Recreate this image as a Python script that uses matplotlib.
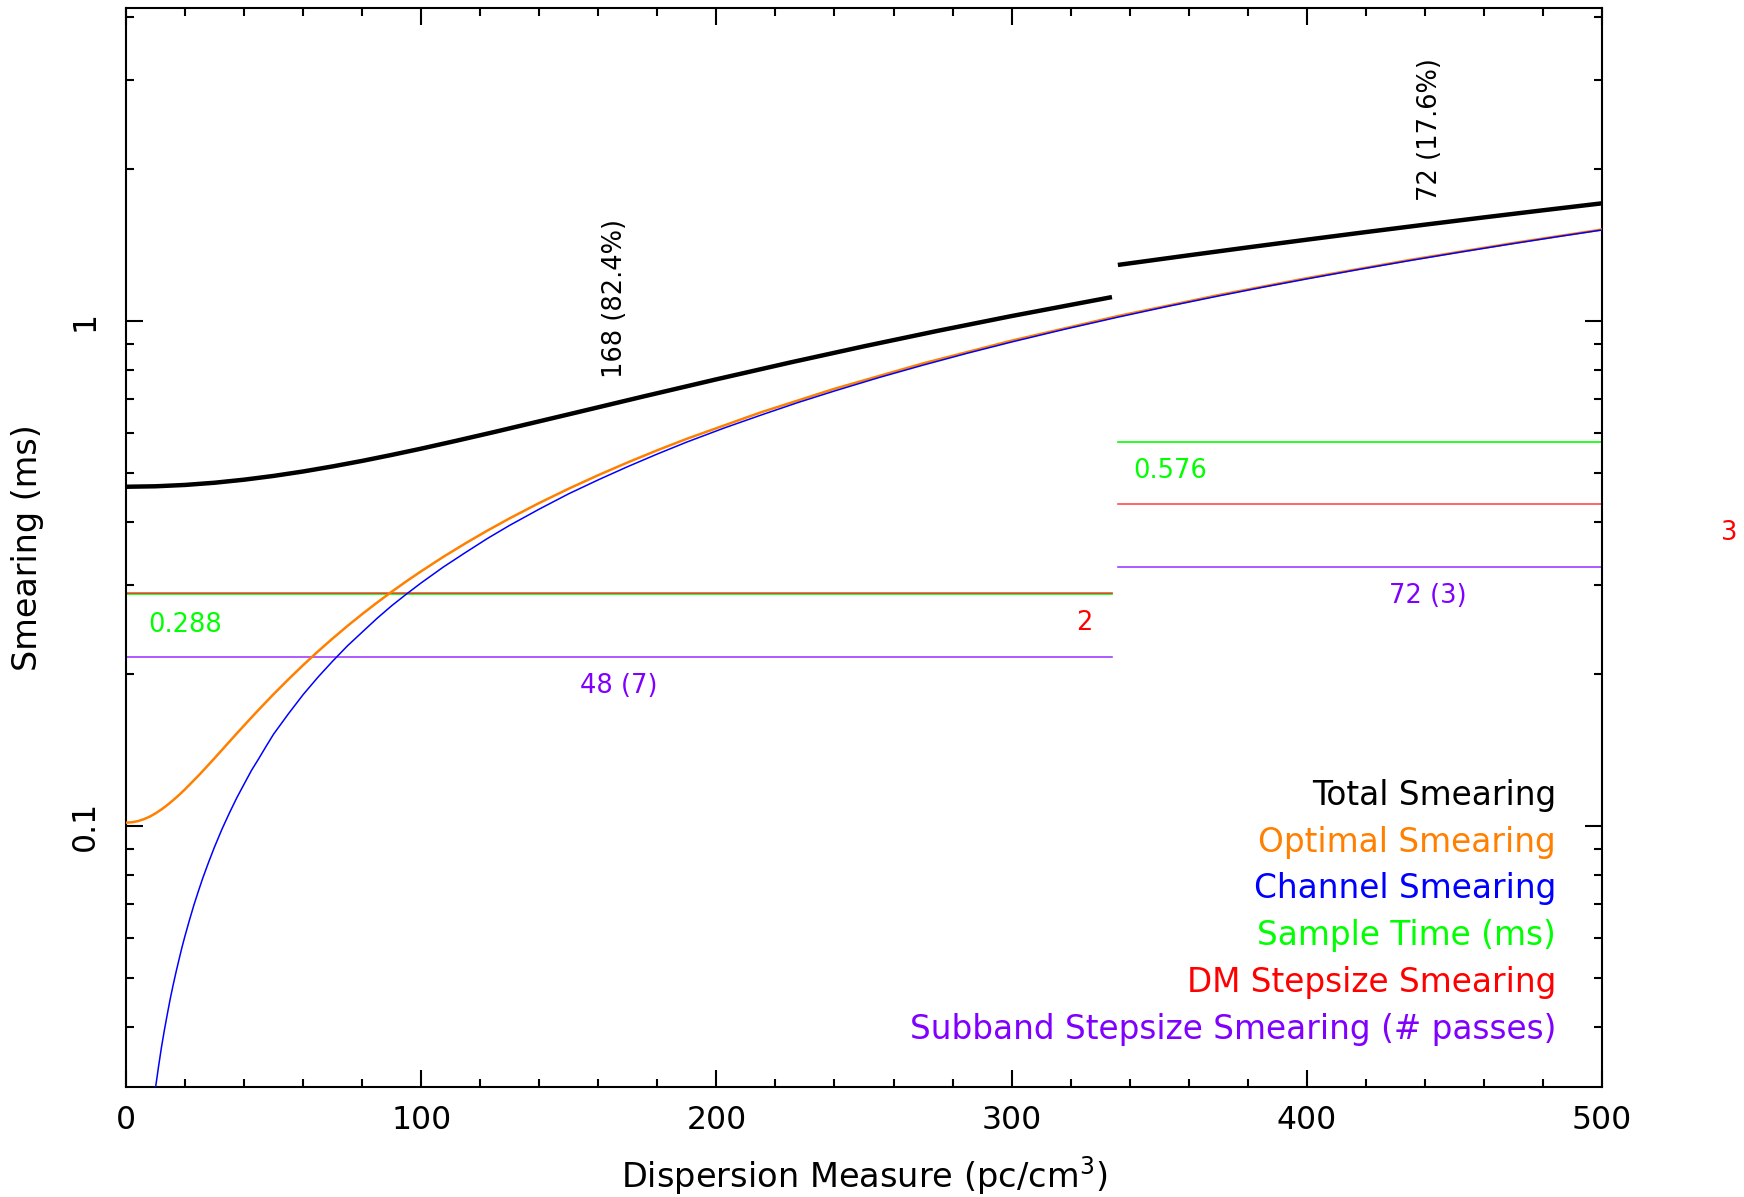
import matplotlib
matplotlib.use("Agg")
import matplotlib.pyplot as plt
from matplotlib.ticker import FixedLocator, FixedFormatter, NullFormatter

# ---------------- data ----------------
# Channel smearing (blue), ms
chan_dm = [8, 9, 10, 11, 12, 13, 14, 15, 16, 17, 18, 19, 20, 21.5, 23, 24.5, 26, 28, 30,
           32.5, 35, 37.5, 40, 42.5, 45, 47.5, 50, 55, 60, 65, 70, 75, 80, 85, 90, 95,
           100, 107.5, 115, 122.5, 130, 140, 150, 160, 170, 180, 190, 202.5, 215, 227.5,
           240, 255, 270, 285, 300, 318, 336, 353, 370, 385, 400, 417.5, 435, 452.5,
           470, 485, 500]
chan_smear = [0.0242, 0.0273, 0.0303, 0.0333, 0.0364, 0.0394, 0.0424, 0.0455, 0.0485,
              0.0515, 0.0545, 0.0576, 0.0606, 0.0651, 0.0697, 0.0742, 0.0788, 0.0848,
              0.0909, 0.0985, 0.106, 0.1136, 0.121, 0.1288, 0.136, 0.1439, 0.152, 0.1667,
              0.182, 0.1970, 0.212, 0.2273, 0.242, 0.2576, 0.273, 0.2879, 0.303, 0.3257,
              0.348, 0.3712, 0.394, 0.4242, 0.455, 0.4848, 0.515, 0.5454, 0.576, 0.6136,
              0.651, 0.6893, 0.727, 0.7727, 0.818, 0.8636, 0.909, 0.9635, 1.018, 1.0696,
              1.121, 1.1666, 1.212, 1.2650, 1.318, 1.3711, 1.424, 1.4696, 1.515]

# Optimal smearing (orange), ms
opt_dm = [0, 2, 4, 6, 8, 10, 12, 14, 16, 18, 20, 22.5, 25, 27.5, 30, 32.5, 35, 37.5, 40,
          42.5, 45, 47.5, 50, 55, 60, 65, 70, 75, 80, 85, 90, 95, 100, 107.5, 115, 122.5,
          130, 140, 150, 160, 170, 180, 190, 215, 240, 270, 300, 336, 370, 400, 435,
          470, 500]
opt_smear = [0.1015, 0.1017, 0.1022, 0.1031, 0.1043, 0.1059, 0.1078, 0.1100, 0.1125,
             0.1152, 0.1182, 0.1223, 0.1266, 0.1313, 0.1362, 0.1414, 0.1468, 0.1524,
             0.1581, 0.1640, 0.1700, 0.1761, 0.1824, 0.1951, 0.2082, 0.2216, 0.2351,
             0.2489, 0.2628, 0.2768, 0.2910, 0.3052, 0.3195, 0.3412, 0.3629, 0.3848,
             0.4068, 0.4362, 0.4657, 0.4953, 0.5250, 0.5548, 0.5846, 0.6593, 0.7343,
             0.8244, 0.9146, 1.0231, 1.1257, 1.2162, 1.3220, 1.4277, 1.5184]

# Total smearing (black), two DM ranges
tot1_dm = [0, 10, 20, 30, 40, 50, 60, 70, 80, 90, 100, 112, 125, 150, 175, 200, 225, 250,
           275, 300, 334]
tot1_smear = [0.4697, 0.4707, 0.4736, 0.4784, 0.4851, 0.4935, 0.5036, 0.5154, 0.5285,
              0.5431, 0.5589, 0.5795, 0.6034, 0.6536, 0.7084, 0.7667, 0.8279, 0.8913,
              0.9565, 1.0232, 1.1157]
tot2_dm = [336, 360, 380, 400, 420, 440, 460, 480, 500]
tot2_smear = [1.2918, 1.3498, 1.3993, 1.4495, 1.5006, 1.5523, 1.6046, 1.6575, 1.7110]

# Per-plan constant smearings
seg_lo = [0, 336]
seg_hi = [334, 552]
sample_time = [0.288, 0.576]          # green
dm_step_smear = [0.2892, 0.4348]      # red
sub_step_smear = [0.2165, 0.3263]     # purple
dDM = ["2", "3"]
sub_labels = ["48 (7)", "72 (3)"]
num_labels = ["168 (82.4%)", "72 (17.6%)"]
sample_labels = ["0.288", "0.576"]

legend_labels = ["Total Smearing", "Optimal Smearing", "Channel Smearing",
                 "Sample Time (ms)", "DM Stepsize Smearing",
                 "Subband Stepsize Smearing (# passes)"]

# ---------------- styling ----------------
C_TOT = "black"
C_OPT = "#FF8000"
C_CHAN = "#0000FF"
C_SAMP = "#00FF00"
C_DM = "#FF0000"
C_SUB = "#8000FF"
legend_colors = [C_TOT, C_OPT, C_CHAN, C_SAMP, C_DM, C_SUB]

plt.rcParams["font.family"] = ["DejaVu Sans"]
plt.rcParams["mathtext.fontset"] = "dejavusans"

W, H = 1744, 1197
fig = plt.figure(figsize=(W / 100, H / 100), dpi=100)
ax = fig.add_axes([126 / W, 1 - 1087 / H, 1476 / W, 1079 / H])
ax.set_yscale("log")
ax.set_xlim(0, 500)
ax.set_ylim(0.0304, 4.17)

# curves
ax.plot(opt_dm, opt_smear, color=C_OPT, lw=1.8, zorder=3)
ax.plot(chan_dm, chan_smear, color=C_CHAN, lw=1.1, zorder=4)
ax.plot(tot1_dm, tot1_smear, color=C_TOT, lw=3.2, zorder=5, solid_capstyle="butt")
ax.plot(tot2_dm, tot2_smear, color=C_TOT, lw=3.2, zorder=5, solid_capstyle="butt")

ann = 18.5
for i in range(2):
    lo, hi = seg_lo[i], seg_hi[i]
    ax.plot([lo, hi], [sub_step_smear[i]] * 2, color=C_SUB, lw=1.2, alpha=0.75, zorder=2)
    ax.plot([lo, hi], [sample_time[i]] * 2, color=C_SAMP, lw=1.2, zorder=2)
    ax.plot([lo, hi], [dm_step_smear[i]] * 2, color=C_DM, lw=1.2, alpha=0.7, zorder=2)

# annotations
ax.text(7.5, 0.2422, sample_labels[0], color=C_SAMP, fontsize=ann, ha="left", va="baseline")
ax.text(341.1, 0.4882, sample_labels[1], color=C_SAMP, fontsize=ann, ha="left", va="baseline")
ax.text(324.7, 0.2444, dDM[0], color=C_DM, fontsize=ann, ha="center", va="baseline")
ax.text(543.0, 0.3684, dDM[1], color=C_DM, fontsize=ann, ha="center", va="baseline",
        clip_on=False)
ax.text(167, 0.1834, sub_labels[0], color=C_SUB, fontsize=ann, ha="center", va="baseline")
ax.text(441, 0.2768, sub_labels[1], color=C_SUB, fontsize=ann, ha="center", va="baseline")
ax.text(168, 0.772, num_labels[0], color=C_TOT, fontsize=ann, rotation=90,
        rotation_mode="anchor", ha="left", va="baseline")
ax.text(444, 1.73, num_labels[1], color=C_TOT, fontsize=ann, rotation=90,
        rotation_mode="anchor", ha="left", va="baseline")

# legend as text lines
leg_y = [0.2614, 0.2181, 0.1749, 0.1316, 0.0878, 0.0442]
for lab, col, yy in zip(legend_labels, legend_colors, leg_y):
    ax.text(0.969, yy, lab, color=col, fontsize=23.6, ha="right", va="baseline",
            transform=ax.transAxes)

# axes / ticks
for sp in ax.spines.values():
    sp.set_linewidth(1.5)
ax.xaxis.set_major_locator(FixedLocator([0, 100, 200, 300, 400, 500]))
ax.xaxis.set_minor_locator(FixedLocator([v for v in range(0, 501, 20) if v % 100]))
ax.yaxis.set_major_locator(FixedLocator([0.1, 1]))
ax.yaxis.set_major_formatter(FixedFormatter(["0.1", "1"]))
ax.yaxis.set_minor_locator(FixedLocator([0.04, 0.05, 0.06, 0.07, 0.08, 0.09,
                                         0.2, 0.3, 0.4, 0.5, 0.6, 0.7, 0.8, 0.9,
                                         2, 3, 4]))
ax.yaxis.set_minor_formatter(NullFormatter())
ax.tick_params(which="both", direction="in", top=True, right=True, width=1.5,
               labelsize=22.7, colors="black")
ax.tick_params(which="major", length=12.5)
ax.tick_params(which="minor", length=6)
ax.tick_params(axis="x", which="major", pad=13)
ax.tick_params(axis="y", which="major", pad=18, labelrotation=90)
for lbl in ax.get_yticklabels():
    lbl.set_va("center")

ax.set_xlabel(r"Dispersion Measure (pc/cm$^{3}$)", fontsize=24.2)
ax.xaxis.label.set_va("baseline")
ax.xaxis.set_label_coords(0.5, -0.0936)
ax.set_ylabel("Smearing (ms)", fontsize=24)
ax.yaxis.label.set_va("center")
ax.yaxis.set_label_coords(-0.0664, 0.5)

fig.savefig("out.png", dpi=100, facecolor="white")
